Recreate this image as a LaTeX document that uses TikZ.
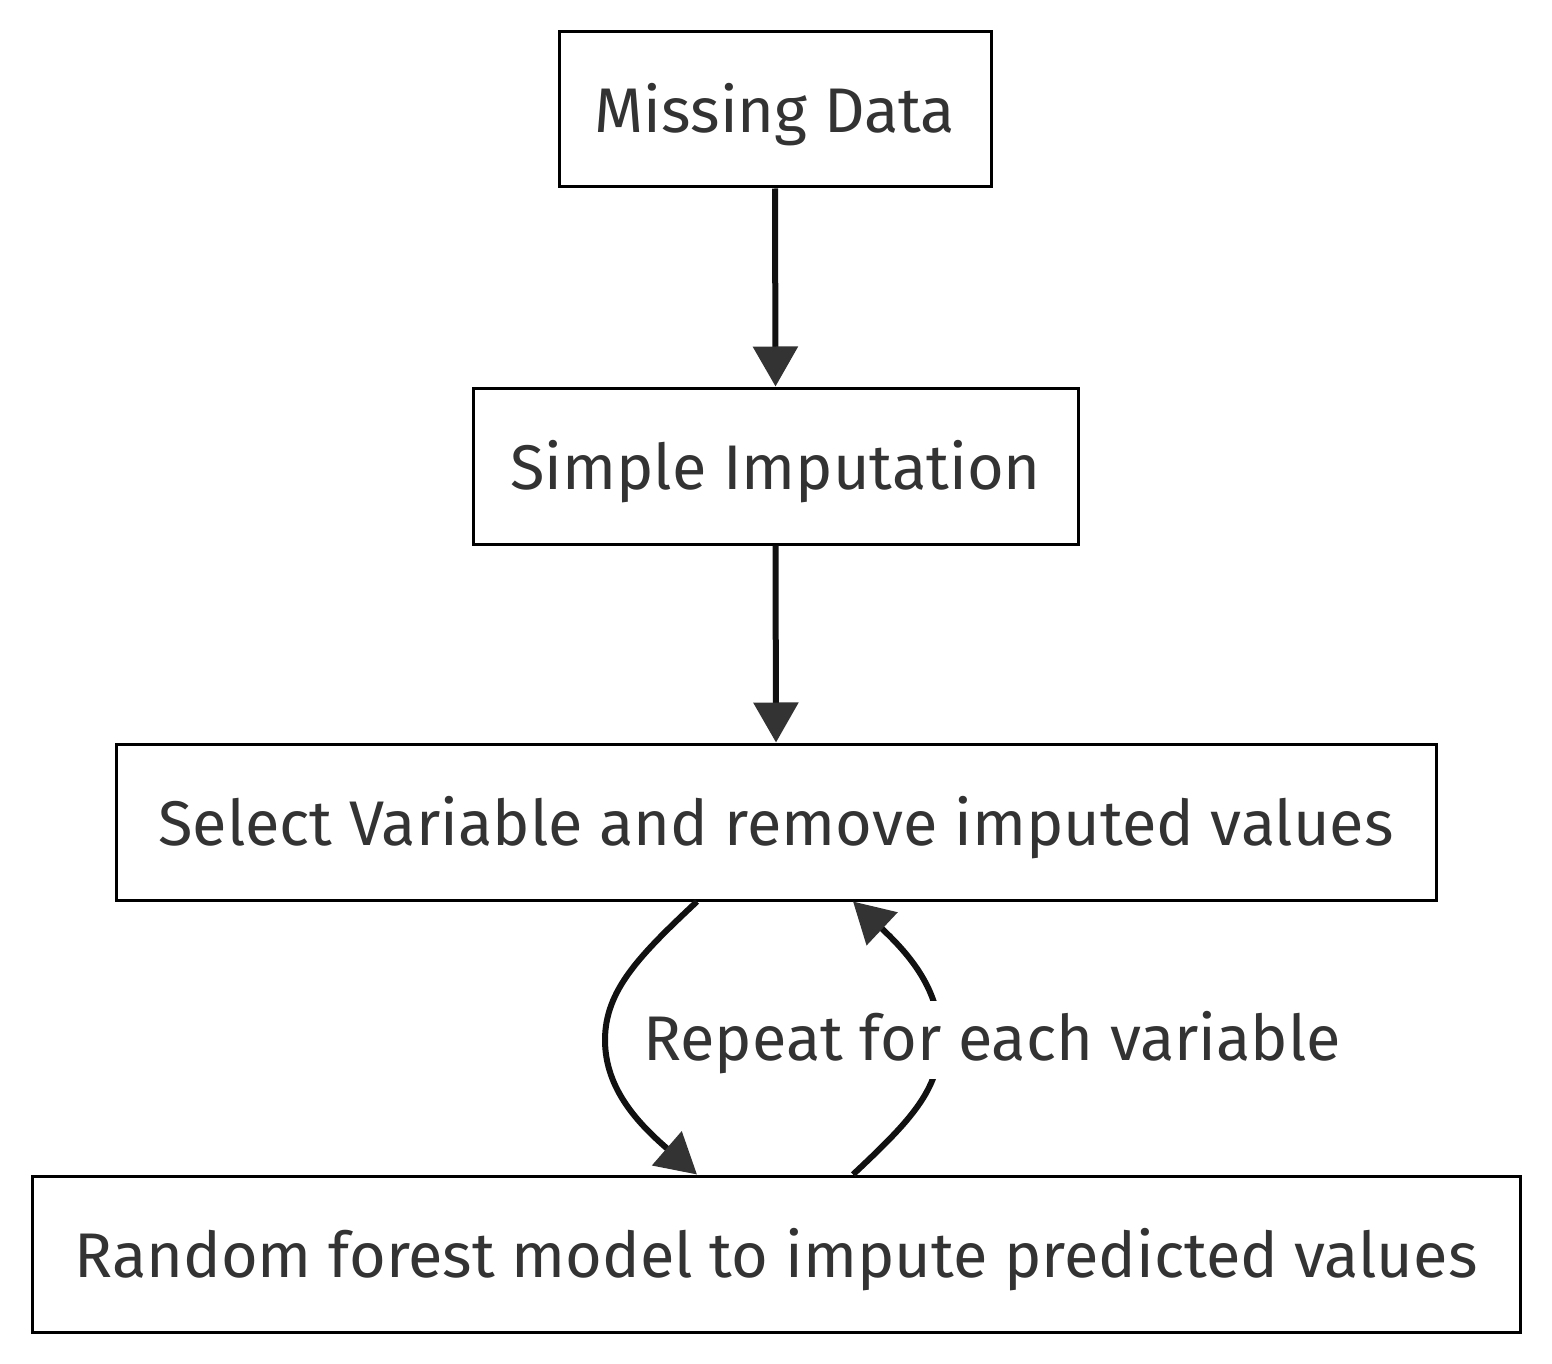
\documentclass[tikz,border=0pt]{standalone}
\usepackage{fontspec}
\setmainfont{Fira Sans}
\usetikzlibrary{arrows.meta,calc}
\definecolor{txt}{HTML}{333333}
\definecolor{tipc}{HTML}{333333}
\definecolor{linec}{HTML}{111111}
\newlength\reflen
\begin{document}
\settowidth\reflen{\fontsize{50pt}{60pt}\selectfont Random forest model to impute predicted values}%
\pgfmathsetmacro\fsz{50/\reflen*1403}%
\pgfmathsetmacro\fszb{1.2*\fsz}%
\begin{tikzpicture}[x=1pt,y=-1pt]
\tikzset{
  txtfont/.style={font=\fontsize{\fsz pt}{\fszb pt}\selectfont, text=txt},
  flowbox/.style={draw=black, line width=3pt, fill=white, inner sep=0pt, text height=46pt, text depth=0pt, txtfont},
  flowarrow/.style={draw=linec, line width=6pt, -{Triangle[length=40pt,width=44pt,color=tipc]}},
  curvearrow/.style={draw=linec, line width=6pt, -{Triangle[length=40pt,width=44pt,color=tipc]}},
}
\useasboundingbox (0,0) rectangle (1552,1364);
\node[flowbox, minimum width=432pt, minimum height=155pt] (md) at (775,109.5) {Missing Data};
\node[flowbox, minimum width=605pt, minimum height=156pt] (si) at (775.5,466) {Simple Imputation};
\node[flowbox, minimum width=1320pt, minimum height=156pt] (sv) at (776,822) {Select Variable and remove imputed values};
\node[flowbox, minimum width=1488pt, minimum height=156pt] (rf) at (776,1254) {Random forest model to impute predicted values};
\draw[flowarrow] (md.south) -- (si.north);
\draw[flowarrow] (si.south) -- (sv.north);
\coordinate (l1) at (sv.south -| 697,0);
\coordinate (l2) at (rf.north -| 697,0);
\coordinate (r1) at (rf.north -| 853,0);
\coordinate (r2) at (sv.south -| 853,0);
\draw[curvearrow] (l1) .. controls (640,955) and (605,990) .. (605,1040) .. controls (605,1090) and (640,1125) .. (l2);
\draw[curvearrow] (r1) .. controls (910,1121) and (940,1090) .. (940,1040) .. controls (940,990) and (910,955) .. (r2);
\node[txtfont, fill=white, inner sep=0pt, text height=40pt, text depth=0pt, minimum height=78pt] (lab) at (992,1040) {Repeat for each variable};
\end{tikzpicture}
\end{document}
